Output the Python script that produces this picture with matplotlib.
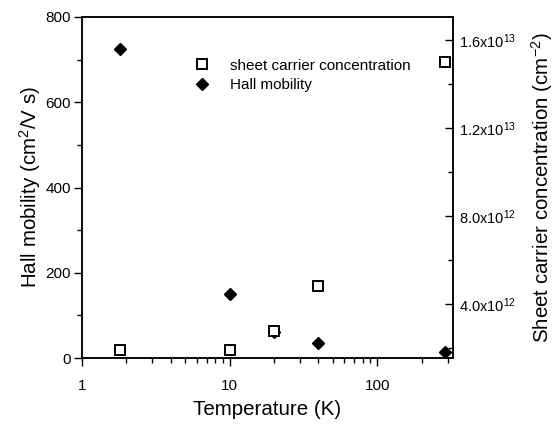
import matplotlib
matplotlib.use('Agg')
import matplotlib.pyplot as plt
from matplotlib.ticker import FixedLocator, LogLocator, NullFormatter, FixedFormatter

plt.rcParams['font.family'] = ['Liberation Sans', 'DejaVu Sans']
plt.rcParams['mathtext.fontset'] = 'custom'
plt.rcParams['mathtext.rm'] = 'Liberation Sans'
plt.rcParams['mathtext.it'] = 'Liberation Sans'

# data
temperature = [1.8, 10, 20, 40, 290]
hall_mobility = [725, 150, 60, 35, 14]
sheet_conc = [1.9e12, 1.9e12, 2.77e12, 4.82e12, 1.5e13]

left_ticks = [0, 200, 400, 600, 800]
right_ticks = [4.0e12, 8.0e12, 1.2e13, 1.6e13]
right_labels = [r'4.0x10$^{12}$', r'8.0x10$^{12}$', r'1.2x10$^{13}$', r'1.6x10$^{13}$']

fig = plt.figure(figsize=(5.55, 4.26), dpi=100)
ax = fig.add_axes([82 / 555, 68 / 426, 371 / 555, 341 / 426])
ax2 = ax.twinx()

ax.set_xscale('log')
ax.set_xlim(1, 326)
ax.set_ylim(0, 800)
ax2.set_ylim(1.545e12, 1.705e13)

hm, = ax.plot(temperature, hall_mobility, linestyle='none', marker='D',
              markersize=6.2, color='black')
sc, = ax2.plot(temperature, sheet_conc, linestyle='none', marker='s',
               markersize=7, markerfacecolor='white', markeredgecolor='black',
               markeredgewidth=1.4)

for a in (ax, ax2):
    for s in a.spines.values():
        s.set_linewidth(1.1)

ax.yaxis.set_major_locator(FixedLocator(left_ticks))
ax.yaxis.set_minor_locator(FixedLocator([100, 300, 500, 700]))
ax.xaxis.set_minor_locator(LogLocator(base=10, subs=range(2, 10), numticks=10))
ax.xaxis.set_minor_formatter(NullFormatter())
ax.set_xticks([1, 10, 100])
ax.set_xticklabels(['1', '10', '100'])

ax.tick_params(axis='both', which='major', direction='out', length=6, width=1,
               labelsize=11)
ax.tick_params(axis='both', which='minor', direction='out', length=3.5, width=1)
ax.tick_params(axis='x', which='major', pad=9)
ax.tick_params(axis='y', which='major', pad=2)

ax2.yaxis.set_major_locator(FixedLocator(right_ticks))
ax2.yaxis.set_major_formatter(FixedFormatter(right_labels))
ax2.yaxis.set_minor_locator(FixedLocator([2e12, 6e12, 1.0e13, 1.4e13]))
ax2.tick_params(axis='y', which='major', direction='in', length=6, width=1,
                labelsize=10.5, pad=4)
ax2.tick_params(axis='y', which='minor', direction='in', length=3.5, width=1)

ax.set_xlabel('Temperature (K)', fontsize=14.8, labelpad=5)
ax.set_ylabel(r'Hall mobility (cm$^2$/V s)', fontsize=14.8, labelpad=2)
ax2.set_ylabel(r'Sheet carrier concentration (cm$^{-2}$)', fontsize=14.8,
               labelpad=10)

leg = ax2.legend([sc, hm], ['sheet carrier concentration', 'Hall mobility'],
                 loc='upper left', bbox_to_anchor=(184 / 555, 1 - 51 / 426),
                 bbox_transform=fig.transFigure, frameon=False, fontsize=11,
                 handletextpad=1.2, labelspacing=0.38, borderpad=0,
                 handlelength=1.3)

fig.savefig('out.png', dpi=100)
